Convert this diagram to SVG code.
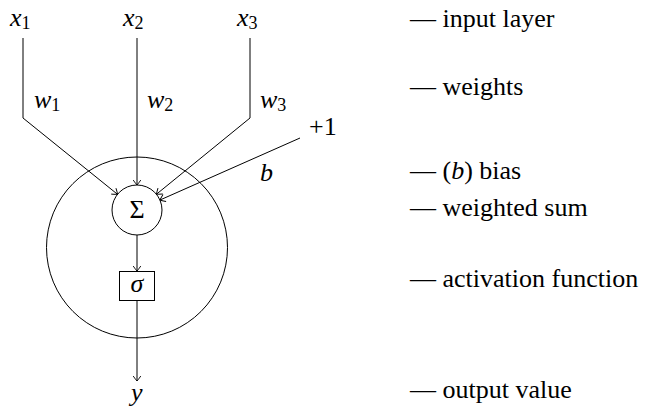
<svg xmlns="http://www.w3.org/2000/svg" width="646" height="412" viewBox="0 0 646 412">
<style>
.ln{fill:none;stroke:#000;stroke-width:1}
text{font-family:"Liberation Serif","DejaVu Serif",serif;fill:#000}
.m{font-style:italic;font-size:26px}
.sub{font-style:normal;font-size:18px}
.r{font-size:26px}
.up{font-size:26px}
</style>
<defs>
<marker id="arr" viewBox="-6 -5 8 10" markerWidth="8" markerHeight="10" refX="0" refY="0" orient="auto" markerUnits="userSpaceOnUse">
<path d="M-5,-3.8 Q-1.2,-1.2 0,0 Q-1.2,1.2 -5,3.8" fill="none" stroke="#000" stroke-width="0.9"/>
</marker>
</defs>
<rect width="646" height="412" fill="#fff"/>
<g id="connectors">
<path class="ln" d="M23,38 V118 L117.5,194.3" marker-end="url(#arr)"/>
<path class="ln" d="M137,38 V185" marker-end="url(#arr)"/>
<path class="ln" d="M250,38 V118 L156.5,194.2" marker-end="url(#arr)"/>
<path class="ln" d="M300,138 L160,200" marker-end="url(#arr)"/>
<path class="ln" d="M137,235 V271" marker-end="url(#arr)"/>
<path class="ln" d="M137,300 V381" marker-end="url(#arr)"/>
</g>
<g id="neuron"><circle class="ln" cx="137" cy="247.5" r="90.5"/></g>
<g id="sum"><circle class="ln" cx="137" cy="210" r="25"/><text x="137" y="218" text-anchor="middle" class="up" font-size="24">Σ</text></g>
<g id="activation"><rect class="ln" x="119.5" y="271.5" width="35" height="29"/><text x="137" y="292" text-anchor="middle" class="m">σ</text></g>
<g id="x1"><text class="m" x="10" y="26">x<tspan class="sub" dy="3">1</tspan></text></g>
<g id="x2"><text class="m" x="123" y="26">x<tspan class="sub" dy="3">2</tspan></text></g>
<g id="x3"><text class="m" x="237" y="26">x<tspan class="sub" dy="3">3</tspan></text></g>
<g id="w1"><text class="m" x="34" y="108">w<tspan class="sub" dy="3">1</tspan></text></g>
<g id="w2"><text class="m" x="147" y="108">w<tspan class="sub" dy="3">2</tspan></text></g>
<g id="w3"><text class="m" x="260" y="108">w<tspan class="sub" dy="3">3</tspan></text></g>
<g id="plus1"><text class="up" x="309" y="135">+1</text></g>
<g id="b"><text class="m" x="260" y="181">b</text></g>
<g id="y"><text class="m" x="131" y="401">y</text></g>
<g id="legend">
<text class="r" x="410" y="27">— input layer</text>
<text class="r" x="410" y="95">— weights</text>
<text class="r" x="410" y="179">— (<tspan font-style="italic">b</tspan>) bias</text>
<text class="r" x="410" y="216">— weighted sum</text>
<text class="r" x="410" y="287">— activation function</text>
<text class="r" x="410" y="398">— output value</text>
</g>
</svg>
